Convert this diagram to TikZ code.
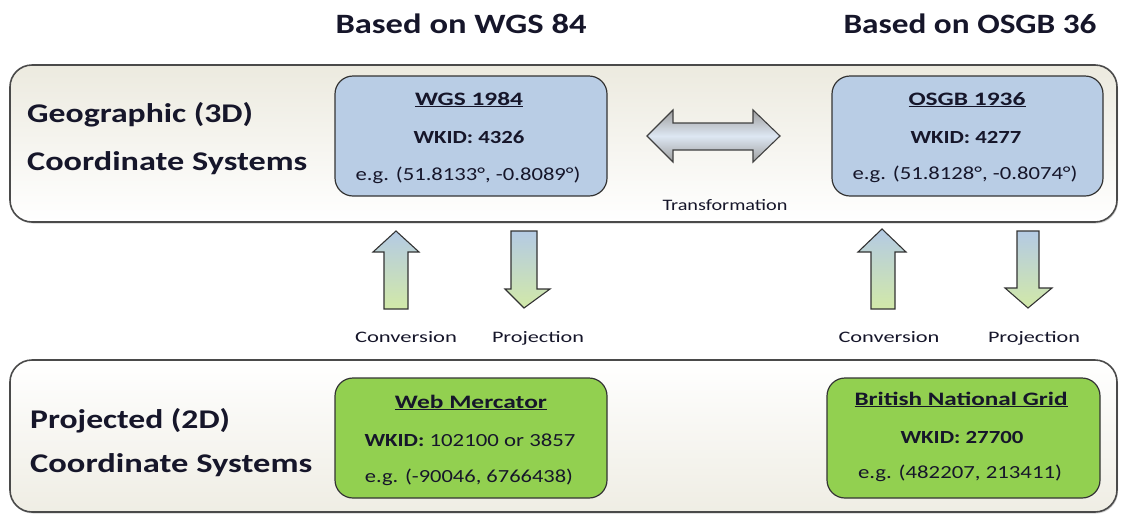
\documentclass[tikz,border=0pt]{standalone}
\usepackage{fontspec}
\usepackage{graphicx}
\setmainfont{Carlito}
\usetikzlibrary{shadows}
\definecolor{txt}{HTML}{16162A}
\definecolor{bluebox}{HTML}{B9CDE5}
\definecolor{greenbox}{HTML}{92D050}
\definecolor{beige}{HTML}{ECEADF}
\definecolor{arrblue}{HTML}{B4CAE4}
\definecolor{arrgreen}{HTML}{D2E9A8}
\definecolor{frame}{HTML}{4A4A4A}
\newcommand{\fitw}[2]{\resizebox{#1pt}{\height}{#2}}
\tikzset{
  panel/.style={draw=frame, line width=1.6pt, rounded corners=22pt, drop shadow={shadow xshift=1pt, shadow yshift=-1.5pt, opacity=0.35}},
  crsbox/.style={draw=frame!70!black, line width=1.2pt, rounded corners=18pt},
  side/.style={anchor=base west, text=txt, inner sep=0pt, font=\fontsize{27}{30}\selectfont\bfseries},
  head/.style={anchor=base, text=txt, inner sep=0pt, font=\fontsize{28}{32}\selectfont\bfseries},
  boxtitle/.style={anchor=base, text=txt, inner sep=0pt, font=\fontsize{19}{22}\selectfont\bfseries},
  boxline/.style={anchor=base, text=txt, inner sep=0pt, font=\fontsize{18.5}{22}\selectfont},
  small/.style={anchor=base, text=txt, inner sep=0pt, font=\fontsize{16}{19}\selectfont},
  arr/.style={draw=black!80, line width=1.1pt, top color=arrblue, bottom color=arrgreen, line join=miter},
}
\begin{document}
\begin{tikzpicture}[x=1pt,y=-1pt]
\useasboundingbox (0,0) rectangle (1121,515);
% headers
\node[head] (h1) at (461,33) {\fitw{251}{Based on WGS 84}};
\node[head] (h2) at (970,33) {\fitw{253}{Based on OSGB 36}};
% panels
\path[panel, top color=beige, bottom color=white] (10,65) rectangle (1117,222);
\path[panel, top color=white, bottom color=beige!85] (10,360) rectangle (1117,512);
% side labels
\node[side] (g1) at (27,122) {\fitw{226}{Geographic (3D)}};
\node[side] (g2) at (27,170) {\fitw{280}{Coordinate Systems}};
\node[side] (p1) at (30,428) {\fitw{200}{Projected (2D)}};
\node[side] (p2) at (30,472) {\fitw{282}{Coordinate Systems}};
% blue boxes
\path[crsbox, fill=bluebox] (335,76) rectangle (607,196);
\node[boxtitle] (wgsT) at (469,105) {\fitw{108}{\underline{WGS 1984}}};
\node[boxline] (wgsW) at (469,143) {\fitw{111}{\textbf{WKID: 4326}}};
\node[boxline] (wgsE) at (468,180) {\fitw{225}{e.g. (51.8133°, -0.8089°)}};
\path[crsbox, fill=bluebox] (832,76) rectangle (1103,196);
\node[boxtitle] (osT) at (967,105) {\fitw{117}{\underline{OSGB 1936}}};
\node[boxline] (osW) at (966,143) {\fitw{111}{\textbf{WKID: 4277}}};
\node[boxline] (osE) at (965,179) {\fitw{225}{e.g. (51.8128°, -0.8074°)}};
% green boxes
\path[crsbox, fill=greenbox] (335,378) rectangle (607,498);
\node[boxtitle] (wmT) at (471,408) {\fitw{152}{\underline{Web Mercator}}};
\node[boxline] (wmW) at (470,446) {\fitw{211}{\textbf{WKID:} 102100 or 3857}};
\node[boxline] (wmE) at (469,482) {\fitw{208}{e.g. (-90046, 6766438)}};
\path[crsbox, fill=greenbox] (827,378) rectangle (1100,498);
\node[boxtitle] (bnT) at (961,405) {\fitw{213}{\underline{British National Grid}}};
\node[boxline] (bnW) at (962,443) {\fitw{123}{\textbf{WKID: 27700}}};
\node[boxline] (bnE) at (960,478) {\fitw{204}{e.g. (482207, 213411)}};
% transformation double arrow
\path[draw=black!75, line width=1.1pt, line join=miter, top color=black!38, bottom color=black!38, middle color=arrblue!45]
  (647,136) -- (673,110) -- (673,123) -- (753,123) -- (753,110) -- (780,136)
  -- (753,162) -- (753,150) -- (673,150) -- (673,162) -- cycle;
\node[small] (tr) at (725,210) {\fitw{125}{Transformation}};
% up/down arrows
\path[arr] (396,231) -- (419,252) -- (408,252) -- (408,309) -- (384,309) -- (384,252) -- (373,252) -- cycle;
\path[arr] (511,231) -- (537,231) -- (537,289) -- (550,289) -- (524,308) -- (505,289) -- (511,289) -- cycle;
\path[arr] (882,229) -- (906,252) -- (895,252) -- (895,309) -- (871,309) -- (871,252) -- (858,252) -- cycle;
\path[arr] (1017,231) -- (1039,231) -- (1039,288) -- (1052,288) -- (1028,308) -- (1005,288) -- (1017,288) -- cycle;
\node[small] (c1) at (406,342) {\fitw{102}{Conversion}};
\node[small] (pr1) at (538,342) {\fitw{92}{Projection}};
\node[small] (c2) at (889,342) {\fitw{101}{Conversion}};
\node[small] (pr2) at (1034,342) {\fitw{92}{Projection}};
\end{tikzpicture}
\end{document}
